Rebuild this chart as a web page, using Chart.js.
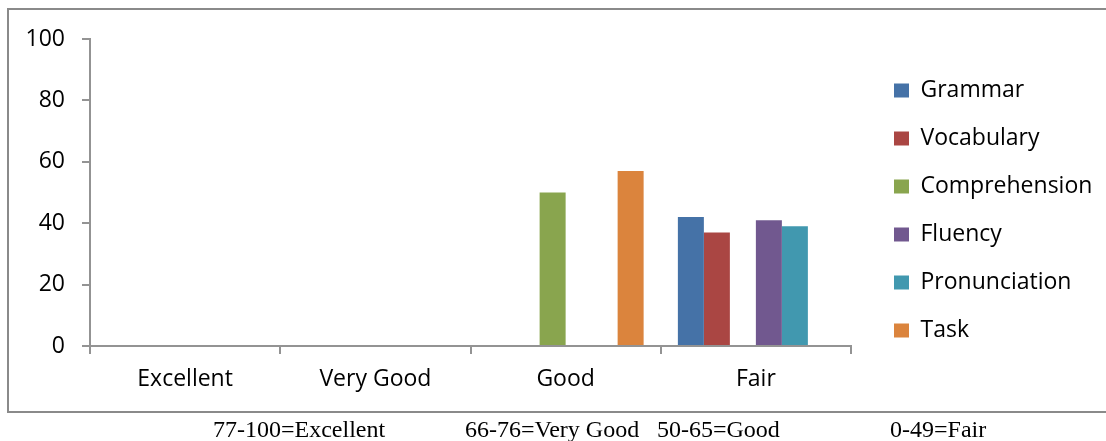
<!DOCTYPE html>
<html>
<head>
<meta charset="utf-8">
<script src="https://cdn.jsdelivr.net/npm/chart.js@4/dist/chart.umd.min.js"></script>
<style>
  html, body { margin: 0; padding: 0; background: #fff; overflow: hidden; }
  #wrap { position: relative; width: 1106px; height: 441px; }
  #frame {
    position: absolute; left: 7px; top: 8px; width: 1120px; height: 401px;
    border-left: 2px solid #8a8a8a; border-top: 2px solid #8a8a8a; border-bottom: 2px solid #8a8a8a;
  }
  #chart { position: absolute; left: 0; top: 0; }
  .note {
    position: absolute; top: 417px; line-height: 24px;
    font-family: "Liberation Serif", "Times New Roman", serif; font-size: 24px; color: #000;
    white-space: nowrap;
  }
</style>
</head>
<body>
<div id="wrap">
  <div id="frame"></div>
  <canvas id="chart" width="1106" height="441"></canvas>
  <span class="note" style="left:213px">77-100=Excellent</span>
  <span class="note" style="left:465px">66-76=Very Good</span>
  <span class="note" style="left:657px">50-65=Good</span>
  <span class="note" style="left:890px">0-49=Fair</span>
</div>
<script>
// ── Dados ─────────────────────────────────────────────
const categories = ['Excellent', 'Very Good', 'Good', 'Fair'];
const grammar       = [0, 0, 0, 42];
const vocabulary    = [0, 0, 0, 37];
const comprehension = [0, 0, 50, 0];
const fluency       = [0, 0, 0, 41];
const pronunciation = [0, 0, 0, 39];
const task          = [0, 0, 57, 0];
const yTicks = [0, 20, 40, 60, 80, 100];

const seriesNames  = ['Grammar', 'Vocabulary', 'Comprehension', 'Fluency', 'Pronunciation', 'Task'];
const seriesValues = [grammar, vocabulary, comprehension, fluency, pronunciation, task];
const seriesColors = ['#4572A7', '#AA4643', '#89A54E', '#71588F', '#4198AF', '#DB843D'];

const FONT = '"Open Sans", "Noto Sans", sans-serif';
const AXIS = '#939393';

// ── Legenda: largura fixa e deslocamento ──────────────
const LEGEND_WIDTH = 255;
const LEGEND_SHIFT_X = 18;
const LEGEND_SHIFT_Y = 15;

const legendPlacer = {
  id: 'legendPlacer',
  afterInit(chart) {
    const lg = chart.legend;
    if (!lg) return;
    const fit = lg.fit.bind(lg);
    lg.fit = function () { fit(); this.width = LEGEND_WIDTH; };
  },
  afterLayout(chart) {
    const lg = chart.legend;
    if (!lg) return;
    lg.left += LEGEND_SHIFT_X; lg.right += LEGEND_SHIFT_X;
    lg.top += LEGEND_SHIFT_Y; lg.bottom += LEGEND_SHIFT_Y;
  },
};

const datasets = seriesNames.map((name, i) => ({
  label: name,
  data: seriesValues[i],
  backgroundColor: seriesColors[i],
  borderWidth: 0,
  barPercentage: 1,
  categoryPercentage: 0.82,
}));

new Chart(document.getElementById('chart'), {
  type: 'bar',
  data: { labels: categories, datasets },
  plugins: [legendPlacer],
  options: {
    responsive: false,
    animation: false,
    devicePixelRatio: 1,
    layout: { padding: { left: 0, top: 39, right: 0, bottom: 0 } },
    plugins: {
      tooltip: { enabled: false },
      legend: {
        position: 'right',
        align: 'start',
        labels: {
          color: '#000',
          font: { family: FONT, size: 23 },
          boxWidth: 15,
          boxHeight: 14,
          padding: 25,
        },
      },
    },
    scales: {
      x: {
        afterFit: (s) => { s.height = 95; },
        grid: {
          display: true,
          offset: true,
          drawOnChartArea: false,
          drawTicks: true,
          tickLength: 8,
          color: AXIS,
          lineWidth: 2,
        },
        border: { display: true, color: AXIS, width: 2 },
        ticks: { color: '#000', font: { family: FONT, size: 23 }, padding: 12, maxRotation: 0 },
      },
      y: {
        min: 0,
        max: 100,
        afterFit: (s) => { s.width = 90; },
        afterBuildTicks: (s) => { s.ticks = yTicks.map(v => ({ value: v })); },
        grid: {
          display: true,
          drawOnChartArea: false,
          drawTicks: true,
          tickLength: 8,
          color: AXIS,
          lineWidth: 2,
        },
        border: { display: true, color: AXIS, width: 2 },
        ticks: { color: '#000', font: { family: FONT, size: 23 }, padding: 17 },
      },
    },
  },
});
</script>
</body>
</html>
